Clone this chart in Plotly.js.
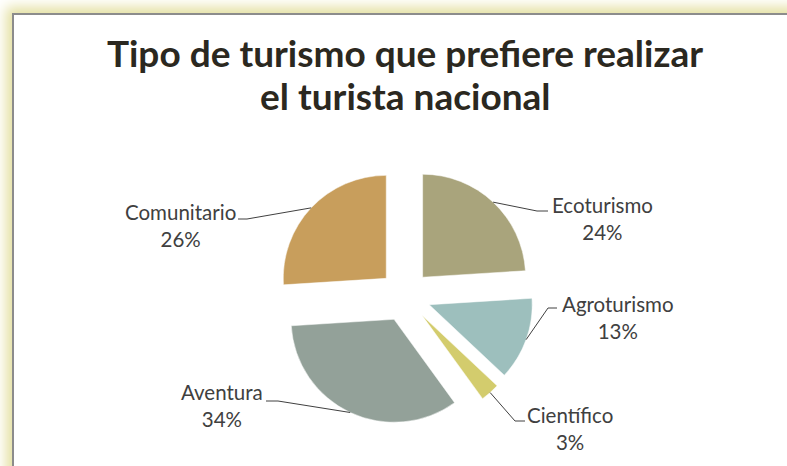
<!DOCTYPE html>
<html><head><meta charset="utf-8">
<script src="https://cdn.plot.ly/plotly-3.0.1.min.js"></script>
<style>
html,body{margin:0;padding:0;background:#fff;overflow:hidden;width:787px;height:466px;}
#frame{position:absolute;left:12px;top:13px;width:820px;height:520px;border-left:2px solid #8c8c8c;border-top:2px solid #8c8c8c;background:#fff;box-shadow:0 0 12px 6px #e4e0a2;}
#chart{position:absolute;left:0;top:0;width:787px;height:466px;}
</style></head><body>
<div id="frame"></div><div id="chart"></div>
<script>
// ---- data ----
const categories = ['Ecoturismo', 'Agroturismo', 'Científico', 'Aventura', 'Comunitario'];
const values = [24, 13, 3, 34, 26];
const percentLabels = ['24%', '13%', '3%', '34%', '26%'];
const titleLines = ['Tipo de turismo que prefiere realizar', 'el turista nacional'];
const colors = ['#a9a47c', '#9dbfbd', '#d3cc6d', '#93a199', '#c89e5c'];

// ---- layout constants (pixels) ----
const W = 787, H = 466;
const CX = 405, CY = 296, R = 103, PULL = 0.25;
// label centre, elbow of leader line, end of leader line next to text
const labelPos = [
  {x: 602, y: 218, ex: 537, ey: 211, hx: 548},
  {x: 618, y: 317, ex: 548, ey: 308, hx: 557},
  {x: 570, y: 428, ex: 515, ey: 421, hx: 525},
  {x: 222, y: 405, ex: 278, ey: 401, hx: 266},
  {x: 180.5, y: 225, ex: 247, ey: 219, hx: 238}
];
const titleFont = {family: 'Lato, "Open Sans", sans-serif', size: 37, color: '#2b2820', weight: 'bold'};

const px = v => v / W;
const py = v => 1 - v / H;

const half = R * (1 + PULL);
const trace = {
  type: 'pie',
  labels: categories,
  values: values,
  sort: false,
  direction: 'clockwise',
  rotation: 0,
  pull: values.map(() => PULL),
  marker: {colors: colors, line: {color: '#ffffff', width: 0.5}},
  textinfo: 'none',
  hoverinfo: 'label+percent',
  showlegend: false,
  domain: {x: [px(CX - half), px(CX + half)], y: [py(CY + half), py(CY - half)]}
};

// leader lines computed from slice mid-angles
const total = values.reduce((a, b) => a + b, 0);
let cum = 0;
const shapes = [];
const annotations = [];
values.forEach((v, i) => {
  const mid = (cum + v / 2) / total * 2 * Math.PI;
  cum += v;
  const dx = Math.sin(mid), dy = -Math.cos(mid);
  const ax = CX + dx * R * PULL, ay = CY + dy * R * PULL;
  const rx = ax + dx * R, ry = ay + dy * R;
  const L = labelPos[i];
  shapes.push({
    type: 'path', xref: 'paper', yref: 'paper',
    path: `M ${px(rx)} ${py(ry)} L ${px(L.ex)} ${py(L.ey)} L ${px(L.hx)} ${py(L.ey)}`,
    line: {color: '#404040', width: 1}
  });
  annotations.push({
    xref: 'paper', yref: 'paper', x: px(L.x), y: py(L.y),
    xanchor: 'center', yanchor: 'middle', showarrow: false, align: 'center',
    text: categories[i] + '<br>' + percentLabels[i],
    font: {family: 'Lato, "Open Sans", sans-serif', size: 20.5, color: '#404040'}
  });
});
// second title line (tighter line spacing than Plotly's default)
annotations.push({
  xref: 'paper', yref: 'paper', x: px(405), y: py(95),
  xanchor: 'center', yanchor: 'middle', showarrow: false,
  text: titleLines[1], font: titleFont
});

const layout = {
  width: W, height: H,
  margin: {l: 0, r: 0, t: 0, b: 0},
  paper_bgcolor: 'rgba(0,0,0,0)',
  plot_bgcolor: 'rgba(0,0,0,0)',
  title: {
    text: titleLines[0],
    x: px(405), xanchor: 'center', xref: 'container',
    y: py(54), yanchor: 'middle', yref: 'container',
    font: titleFont
  },
  shapes: shapes,
  annotations: annotations
};

Plotly.newPlot('chart', [trace], layout, {displayModeBar: false, staticPlot: true});
</script>
</body></html>
